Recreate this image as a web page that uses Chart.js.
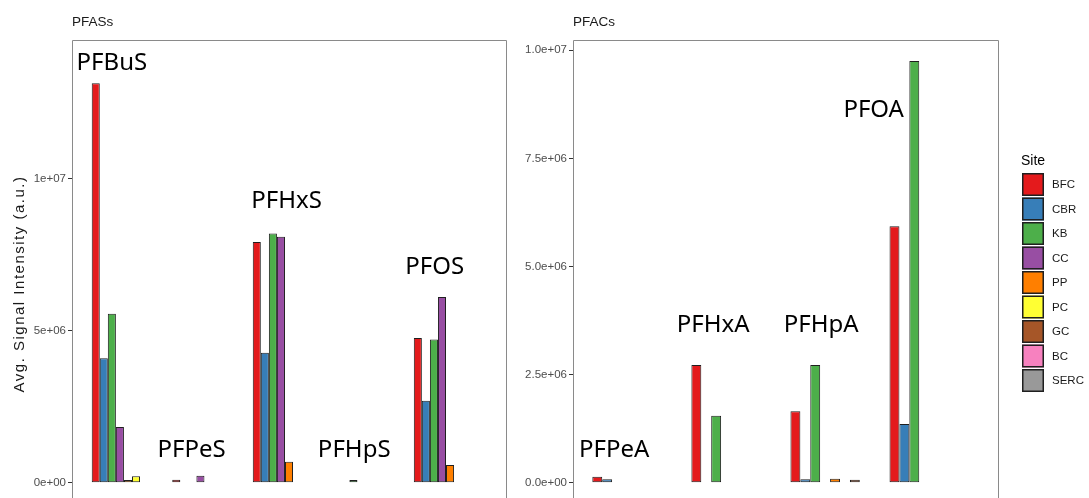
<!DOCTYPE html>
<html>
<head>
<meta charset="utf-8">
<title>PFASs / PFACs by site</title>
<script src="https://cdn.jsdelivr.net/npm/chart.js@4.4.1/dist/chart.umd.min.js"></script>
<style>
    html, body { margin: 0; padding: 0; background: #fff; overflow: hidden; }
    #wrap { position: relative; width: 1089px; height: 498px; }
    canvas { position: absolute; top: 0; display: block; }
</style>
</head>
<body>
<div id="wrap">
    <canvas id="pfasChart" width="507" height="498" style="left:0px; width:507px; height:498px"></canvas>
    <canvas id="pfacChart" width="582" height="498" style="left:507px; width:582px; height:498px"></canvas>
</div>
<script>
// sites (legend order) and Set1 colours
const sites = ['BFC', 'CBR', 'KB', 'CC', 'PP', 'PC', 'GC', 'BC', 'SERC'];
const siteColors = ['#E41A1C', '#377EB8', '#4DAF4A', '#984EA3', '#FF7F00', '#FFFF33', '#A65628', '#F781BF', '#999999'];

// PFASs panel - avg signal intensity per site (null = not detected)
const pfasCompounds = ['PFBuS', 'PFPeS', 'PFHxS', 'PFHpS', 'PFOS'];
const pfasBFC  = [13150000, 100000, 7920000, null, 4760000];
const pfasCBR  = [4100000, null, 4280000, null, 2700000];
const pfasKB   = [5560000, null, 8200000, 90000, 4710000];
const pfasCC   = [1830000, 230000, 8100000, null, 6110000];
const pfasPP   = [90000, null, 690000, null, 580000];
const pfasPC   = [210000, null, null, null, null];
const pfasGC   = [null, null, null, null, null];
const pfasBC   = [null, null, null, null, null];
const pfasSERC = [null, null, null, null, null];
// where the compound names sit (data coords)
const pfasLabelX = [0.8, 1.79, 2.97, 3.81, 4.81];
const pfasLabelY = [13880000, 1140000, 9320000, 1140000, 7140000];
const pfasTicks = [0, 5000000, 10000000];
const pfasTickLabels = ['0e+00', '5e+06', '1e+07'];

// PFACs panel
const pfacCompounds = ['PFPeA', 'PFHxA', 'PFHpA', 'PFOA'];
const pfacBFC  = [140000, 2720000, 1650000, 5930000];
const pfacCBR  = [80000, null, 80000, 1360000];
const pfacKB   = [null, 1550000, 2720000, 9750000];
const pfacCC   = [null, null, null, null];
const pfacPP   = [null, null, 90000, null];
const pfacPC   = [null, null, null, null];
const pfacGC   = [null, null, 70000, null];
const pfacBC   = [null, null, null, null];
const pfacSERC = [null, null, null, null];
const pfacLabelX = [0.77, 1.77, 2.86, 3.39];
const pfacLabelY = [790000, 3670000, 3670000, 8660000];
const pfacTicks = [0, 2500000, 5000000, 7500000, 10000000];
const pfacTickLabels = ['0.0e+00', '2.5e+06', '5.0e+06', '7.5e+06', '1.0e+07'];

const axisFont = { family: '"Liberation Sans", Arial, sans-serif', size: 11.5 };

// build one facet panel (the panel runs past the bottom edge of the picture)
function makePanel(canvasId, title, compounds, series, labelX, labelY, ticks, tickLabels, yRange, xRange, axisWidth, rightPad, extra) {
    const datasets = sites.map((site, s) => ({
        label: site,
        data: compounds.map((c, i) => ({ x: i + 1, y: series[s][i] })),
        backgroundColor: siteColors[s],
        borderColor: '#1f1f1f',
        borderWidth: 1,
        borderSkipped: false,
        categoryPercentage: 0.9,
        barPercentage: 1.0
    }));

    // panel border (top/left/right, bottom is cut off) + facet title
    const frame = {
        id: 'frame',
        afterDraw(chart) {
            const ctx = chart.ctx;
            const a = chart.chartArea;
            const l = Math.round(a.left) + 0.5, r = Math.round(a.right) + 0.5, t = Math.round(a.top) + 0.5;
            ctx.save();
            ctx.strokeStyle = '#8a8a8a';
            ctx.lineWidth = 1;
            ctx.beginPath();
            ctx.moveTo(l, chart.height);
            ctx.lineTo(l, t);
            ctx.lineTo(r, t);
            ctx.lineTo(r, chart.height);
            ctx.stroke();
            ctx.fillStyle = '#1a1a1a';
            ctx.font = '13.5px "Liberation Sans", Arial, sans-serif';
            ctx.textAlign = 'left';
            ctx.textBaseline = 'alphabetic';
            ctx.fillText(title, a.left, 26);
            ctx.restore();
        }
    };

    // compound names written inside the panel
    const compoundLabels = {
        id: 'compoundLabels',
        afterDatasetsDraw(chart) {
            const ctx = chart.ctx;
            const xs = chart.scales.x, ys = chart.scales.y;
            ctx.save();
            ctx.fillStyle = '#000';
            ctx.font = '24px "Noto Sans", "Open Sans", sans-serif';
            ctx.textAlign = 'center';
            ctx.textBaseline = 'alphabetic';
            compounds.forEach((name, i) => {
                ctx.fillText(name, xs.getPixelForValue(labelX[i]), ys.getPixelForValue(labelY[i]) + 8.5);
            });
            ctx.restore();
        }
    };

    return new Chart(document.getElementById(canvasId), {
        type: 'bar',
        data: { datasets: datasets },
        plugins: [compoundLabels, frame].concat(extra),
        options: {
            responsive: false,
            maintainAspectRatio: false,
            animation: false,
            devicePixelRatio: 1,
            layout: { padding: { top: 40, right: rightPad, bottom: 0, left: 0 } },
            plugins: { legend: { display: false }, tooltip: { enabled: false } },
            scales: {
                x: {
                    type: 'linear',
                    display: false,
                    offset: false,
                    min: xRange[0],
                    max: xRange[1],
                    grid: { offset: false },
                    afterBuildTicks: (axis) => { axis.ticks = compounds.map((c, i) => ({ value: i + 1 })); }
                },
                y: {
                    min: yRange[0],
                    max: yRange[1],
                    afterBuildTicks: (axis) => { axis.ticks = ticks.map(v => ({ value: v })); },
                    afterFit: (axis) => {
                        axis.width = axisWidth;
                        // ticks are well inside the panel, no extra room needed
                        axis.paddingTop = 0;
                        axis.paddingBottom = 0;
                    },
                    ticks: {
                        callback: (v, i) => tickLabels[i],
                        color: '#4d4d4d',
                        font: axisFont,
                        padding: 2
                    },
                    grid: { drawOnChartArea: false, drawTicks: true, tickLength: 4, tickColor: '#333', color: '#333' },
                    border: { display: false }
                }
            }
        }
    });
}

// y axis title (left panel only)
const yTitle = {
    id: 'yTitle',
    afterDraw(chart) {
        const ctx = chart.ctx;
        ctx.save();
        ctx.translate(20, 284);
        ctx.rotate(-Math.PI / 2);
        ctx.fillStyle = '#1a1a1a';
        ctx.font = '15px "Liberation Sans", Arial, sans-serif';
        ctx.letterSpacing = '1.5px';
        ctx.textAlign = 'center';
        ctx.textBaseline = 'middle';
        ctx.fillText('Avg. Signal Intensity (a.u.)', 0, 0);
        ctx.restore();
    }
};

// site legend to the right of the PFACs panel
const siteLegend = {
    id: 'siteLegend',
    afterDraw(chart) {
        const ctx = chart.ctx;
        const x0 = chart.chartArea.right + 24;
        const y0 = 173;
        ctx.save();
        ctx.fillStyle = '#000';
        ctx.font = '14px "Liberation Sans", Arial, sans-serif';
        ctx.textAlign = 'left';
        ctx.textBaseline = 'alphabetic';
        ctx.fillText('Site', x0 - 1, 165);
        chart.data.datasets.forEach((ds, i) => {
            const y = y0 + i * 24.5;
            ctx.fillStyle = ds.backgroundColor;
            ctx.fillRect(x0, y, 22, 23);
            ctx.strokeStyle = '#1f1f1f';
            ctx.lineWidth = 1.5;
            ctx.strokeRect(x0 + 0.75, y + 0.75, 20.5, 21.5);
            ctx.fillStyle = '#1a1a1a';
            ctx.font = axisFont.size + 'px "Liberation Sans", Arial, sans-serif';
            ctx.textBaseline = 'middle';
            ctx.fillText(ds.label, x0 + 30, y + 12);
        });
        ctx.restore();
    }
};

// y limits: ggplot's expanded range, cut at the picture's bottom edge
makePanel('pfasChart', 'PFASs', pfasCompounds,
    [pfasBFC, pfasCBR, pfasKB, pfasCC, pfasPP, pfasPC, pfasGC, pfasBC, pfasSERC],
    pfasLabelX, pfasLabelY, pfasTicks, pfasTickLabels,
    [-504000, 14574000], [0.305, 5.695], 72, 1, [yTitle]);

makePanel('pfacChart', 'PFACs', pfacCompounds,
    [pfacBFC, pfacCBR, pfacKB, pfacCC, pfacPP, pfacPC, pfacGC, pfacBC, pfacSERC],
    pfacLabelX, pfacLabelY, pfacTicks, pfacTickLabels,
    [-354000, 10237500], [0.355, 4.645], 66, 91, [siteLegend]);
</script>
</body>
</html>
